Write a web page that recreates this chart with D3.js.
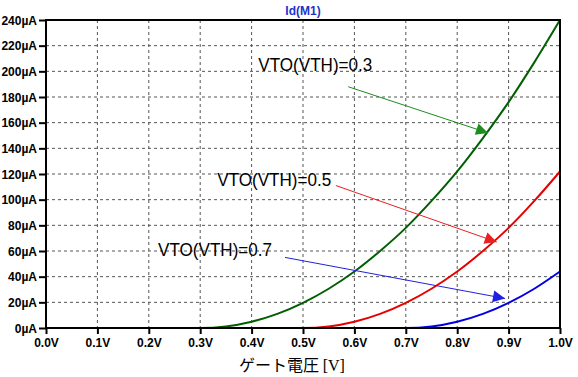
<!DOCTYPE html>
<html>
<head>
<meta charset="utf-8">
<script src="https://cdn.jsdelivr.net/npm/d3@7"></script>
<style>
  body { margin: 0; background: #fff; }
  svg { display: block; }
</style>
</head>
<body>
<div id="chart"></div>
<script>
// gate voltage samples (V)
var vgs = [0.0, 0.05, 0.1, 0.15, 0.2, 0.25, 0.3, 0.35, 0.4, 0.45, 0.5, 0.55, 0.6, 0.65, 0.7, 0.75, 0.8, 0.85, 0.9, 0.95, 1.0];
// drain current (uA)
var id03 = [0, 0, 0, 0, 0, 0, 0, 1.2, 4.9, 11, 19.6, 30.6, 44, 60, 78, 99, 122, 148, 176, 207, 240];
var id05 = [0, 0, 0, 0, 0, 0, 0, 0, 0, 0, 0, 1.2, 4.9, 11, 19.6, 30.6, 44, 60, 78, 99, 122];
var id07 = [0, 0, 0, 0, 0, 0, 0, 0, 0, 0, 0, 0, 0, 0, 0, 1.2, 4.9, 11, 19.6, 30.6, 44];

var xTicks = [0, 0.1, 0.2, 0.3, 0.4, 0.5, 0.6, 0.7, 0.8, 0.9, 1.0];
var yTicks = [0, 20, 40, 60, 80, 100, 120, 140, 160, 180, 200, 220, 240];

var labels = ["VTO(VTH)=0.3", "VTO(VTH)=0.5", "VTO(VTH)=0.7"];

var W = 578, H = 377;
var margin = { top: 20, right: 18, bottom: 49, left: 46 };

var svg = d3.select("#chart").append("svg")
  .attr("width", W)
  .attr("height", H);

var x = d3.scaleLinear().domain([0, 1]).range([margin.left, W - margin.right]);
var y = d3.scaleLinear().domain([0, 240]).range([H - margin.bottom, margin.top]);

// grid
svg.append("g")
  .selectAll("line")
  .data(xTicks.slice(1, -1))
  .enter().append("line")
  .attr("x1", d => x(d)).attr("x2", d => x(d))
  .attr("y1", y(240)).attr("y2", y(0))
  .attr("stroke", "#555").attr("stroke-dasharray", "3,3");

svg.append("g")
  .selectAll("line")
  .data(yTicks.slice(1, -1))
  .enter().append("line")
  .attr("x1", x(0)).attr("x2", x(1))
  .attr("y1", d => y(d)).attr("y2", d => y(d))
  .attr("stroke", "#555").attr("stroke-dasharray", "3,3");

// axes
var xAxis = svg.append("g")
  .attr("transform", "translate(0," + y(0) + ")")
  .call(d3.axisBottom(x).tickValues(xTicks).tickSize(6).tickPadding(4)
    .tickFormat(d => d3.format(".1f")(d) + "V"));

var yAxis = svg.append("g")
  .attr("transform", "translate(" + x(0) + ",0)")
  .call(d3.axisLeft(y).tickValues(yTicks).tickSize(7).tickPadding(2)
    .tickFormat(d => d + "\u00b5A"));

[xAxis, yAxis].forEach(function (g) {
  g.select(".domain").remove();
  g.selectAll(".tick line").attr("stroke", "#000").attr("stroke-width", 2);
  g.selectAll("text")
    .attr("fill", "#000")
    .style("font-family", "Arial, 'Liberation Sans', sans-serif")
    .style("font-size", "12px")
    .style("font-weight", "bold");
});
yAxis.selectAll("text").attr("dy", "0.36em");

// curves
var line = d3.line()
  .x(d => x(d[0]))
  .y(d => y(d[1]))
  .curve(d3.curveMonotoneX);

var series = [
  { vals: id05, color: "#e60000" },
  { vals: id07, color: "#0000e6" },
  { vals: id03, color: "#006000" }
];

series.forEach(function (s) {
  svg.append("path")
    .datum(vgs.map((v, i) => [v, s.vals[i]]))
    .attr("d", line)
    .attr("fill", "none")
    .attr("stroke", s.color)
    .attr("stroke-width", 2);
});

// frame
svg.append("rect")
  .attr("x", x(0)).attr("y", y(240))
  .attr("width", x(1) - x(0)).attr("height", y(0) - y(240))
  .attr("fill", "none").attr("stroke", "#000").attr("stroke-width", 2);

// title
svg.append("text")
  .attr("x", (x(0) + x(1)) / 2)
  .attr("y", 15)
  .attr("text-anchor", "middle")
  .style("font-family", "Arial, 'Liberation Sans', sans-serif")
  .style("font-size", "12px")
  .style("font-weight", "bold")
  .attr("fill", "#2233cc")
  .text("Id(M1)");

// x label
var xl = svg.append("text")
  .attr("x", 292)
  .attr("y", 371)
  .attr("text-anchor", "middle")
  .style("font-size", "16px")
  .attr("fill", "#000");
xl.append("tspan").style("font-family", "'Noto Sans CJK JP', sans-serif").text("ゲート電圧 ");
xl.append("tspan").style("font-family", "'Liberation Serif', serif").text("[V]");

// annotations (label position, arrow start -> arrow tip, in data units)
var notes = [
  { text: labels[0], tx: 0.413, ty: 200, from: [0.588, 188], to: [0.86, 152], color: "#1e8c1e" },
  { text: labels[1], tx: 0.333, ty: 111, from: [0.564, 111], to: [0.877, 67], color: "#e82020" },
  { text: labels[2], tx: 0.218, ty: 56, from: [0.465, 55], to: [0.893, 23], color: "#2020e0" }
];

var defs = svg.append("defs");
notes.forEach(function (n, i) {
  defs.append("marker")
    .attr("id", "arr" + i)
    .attr("viewBox", "0 0 10 10")
    .attr("refX", 10).attr("refY", 5)
    .attr("markerUnits", "userSpaceOnUse")
    .attr("markerWidth", 14).attr("markerHeight", 12)
    .attr("orient", "auto")
    .append("path")
    .attr("d", "M0,0 L10,5 L0,10 Z")
    .attr("fill", n.color);

  svg.append("line")
    .attr("x1", x(n.from[0])).attr("y1", y(n.from[1]))
    .attr("x2", x(n.to[0])).attr("y2", y(n.to[1]))
    .attr("stroke", n.color).attr("stroke-width", 1)
    .attr("marker-end", "url(#arr" + i + ")");

  svg.append("text")
    .attr("x", x(n.tx)).attr("y", y(n.ty))
    .attr("textLength", 114).attr("lengthAdjust", "spacingAndGlyphs")
    .style("font-family", "Arial, 'Liberation Sans', sans-serif")
    .style("font-size", "18px")
    .attr("fill", "#000")
    .text(n.text);
});
</script>
</body>
</html>
